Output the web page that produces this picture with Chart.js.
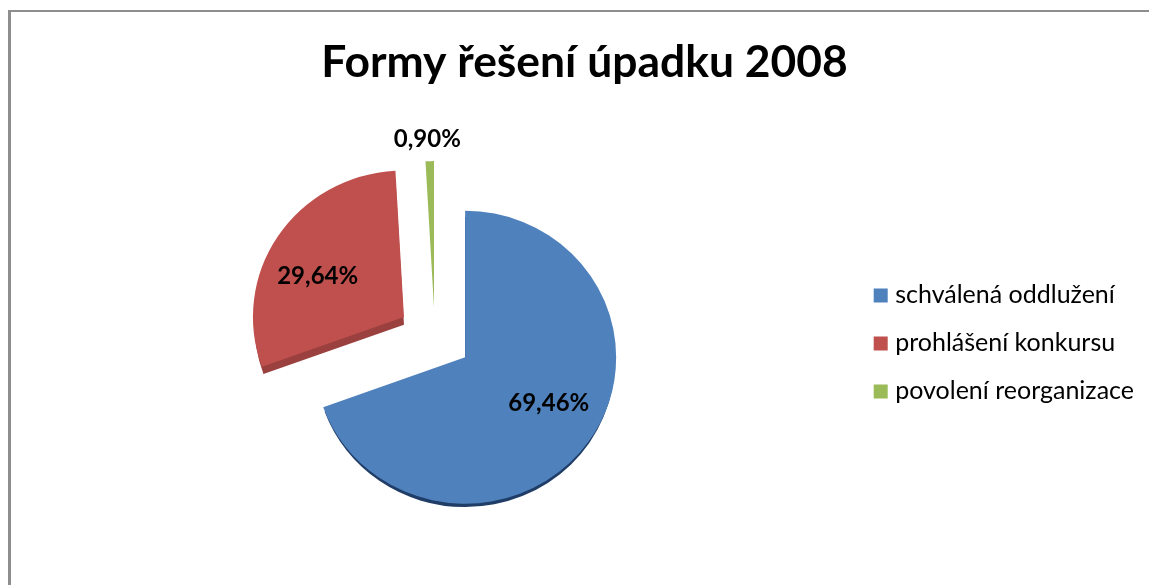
<!DOCTYPE html>
<html>
<head>
<meta charset="utf-8">
<title>Formy řešení úpadku 2008</title>
<script src="https://cdn.jsdelivr.net/npm/chart.js@4"></script>
<style>
  html, body { margin: 0; padding: 0; background: #fff; overflow: hidden; }
  #wrap { position: absolute; left: 0; top: 0; width: 1149px; height: 585px; }
  #frame { position: absolute; left: 8px; top: 10px; right: 0; bottom: 0;
           border-left: 3px solid #8e8e8e; border-top: 2px solid #8e8e8e; pointer-events: none; }
</style>
</head>
<body>
<div id="wrap">
  <canvas id="uvolneni" width="1149" height="585"></canvas>
  <div id="frame"></div>
</div>
<script>
const titleText = 'Formy řešení úpadku 2008';
const categories = ['schválená oddlužení', 'prohlášení konkursu', 'povolení reorganizace'];
const shares = [69.46, 29.64, 0.90];

const sliceColors = ['#4f81bd', '#c0504d', '#9bbb59'];
const edgeColors = ['#1f3d66', '#9a403e', '#6f8a3c'];
const explode = [37, 37, 30];      // px each slice is pulled out of the pie
const rimDepth = [5, 8, 0];
const labelRadius = [96, 95, 166]; // px from slice tip to label centre
const labelNudge = [[5, -6], [-7, 16], [-2, 3]];
const pieNudge = [-5.5, -3];
const tilt = 0.97;                 // the original pie is slightly flattened
const tiltCenterY = 333;
const tiltShiftY = 4;

// the pulled-out slices: Chart.js offset also grows the radius, so move the centres instead
const explodePlugin = {
  id: 'explode',
  afterDatasetsUpdate(chart) {
    chart.getDatasetMeta(0).data.forEach((arc, i) => {
      const mid = (arc.startAngle + arc.endAngle) / 2;
      arc.x += Math.cos(mid) * explode[i] + pieNudge[0];
      arc.y += Math.sin(mid) * explode[i] + pieNudge[1];
    });
  }
};

// flattens the pie and puts a thin darker rim under each slice for the 3D look
const rimPlugin = {
  id: 'rim',
  beforeDatasetsDraw(chart) {
    const ctx = chart.ctx;
    ctx.save();
    ctx.translate(0, tiltCenterY + tiltShiftY);
    ctx.scale(1, tilt);
    ctx.translate(0, -tiltCenterY);
    chart.getDatasetMeta(0).data.forEach((arc, i) => {
      if (!rimDepth[i]) return;
      const y = arc.y + rimDepth[i];
      ctx.fillStyle = edgeColors[i];
      ctx.beginPath();
      ctx.moveTo(arc.x, y);
      ctx.arc(arc.x, y, arc.outerRadius - 1.5, arc.startAngle, arc.endAngle);
      ctx.closePath();
      ctx.fill();
    });
  },
  afterDatasetsDraw(chart) {
    chart.ctx.restore();
  }
};

const valueLabelPlugin = {
  id: 'valueLabels',
  afterDatasetsDraw(chart) {
    const ctx = chart.ctx;
    ctx.save();
    ctx.font = 'bold 24px Lato';
    ctx.fillStyle = '#000';
    ctx.textAlign = 'center';
    ctx.textBaseline = 'middle';
    chart.getDatasetMeta(0).data.forEach((arc, i) => {
      const mid = (arc.startAngle + arc.endAngle) / 2;
      const text = shares[i].toFixed(2).replace('.', ',') + '%';
      const x = arc.x + Math.cos(mid) * labelRadius[i] + labelNudge[i][0];
      const y = arc.y + Math.sin(mid) * labelRadius[i] + labelNudge[i][1];
      ctx.fillText(text, x, y);
    });
    ctx.restore();
  }
};

new Chart(document.getElementById('uvolneni'), {
  type: 'pie',
  data: {
    labels: categories,
    datasets: [{
      data: shares,
      backgroundColor: sliceColors,
      borderWidth: 0
    }]
  },
  options: {
    responsive: false,
    animation: false,
    radius: 151,
    layout: { padding: { left: 25, bottom: 15, right: 5 } },
    plugins: {
      title: {
        display: true,
        text: titleText,
        color: '#000',
        font: { family: 'Lato', size: 44.4, weight: 'bold' },
        padding: { top: 36, bottom: 12 }
      },
      legend: {
        position: 'right',
        // empty legend title only pushes the rows down to the reference height
        title: { display: true, text: ' ', padding: 50, font: { size: 14 } },
        labels: {
          usePointStyle: true,
          pointStyle: 'rect',
          boxWidth: 4,
          boxHeight: 14,
          color: '#000',
          font: { family: 'Lato', size: 25 },
          padding: 23
        }
      },
      tooltip: { enabled: false }
    }
  },
  plugins: [explodePlugin, rimPlugin, valueLabelPlugin]
});
</script>
</body>
</html>
